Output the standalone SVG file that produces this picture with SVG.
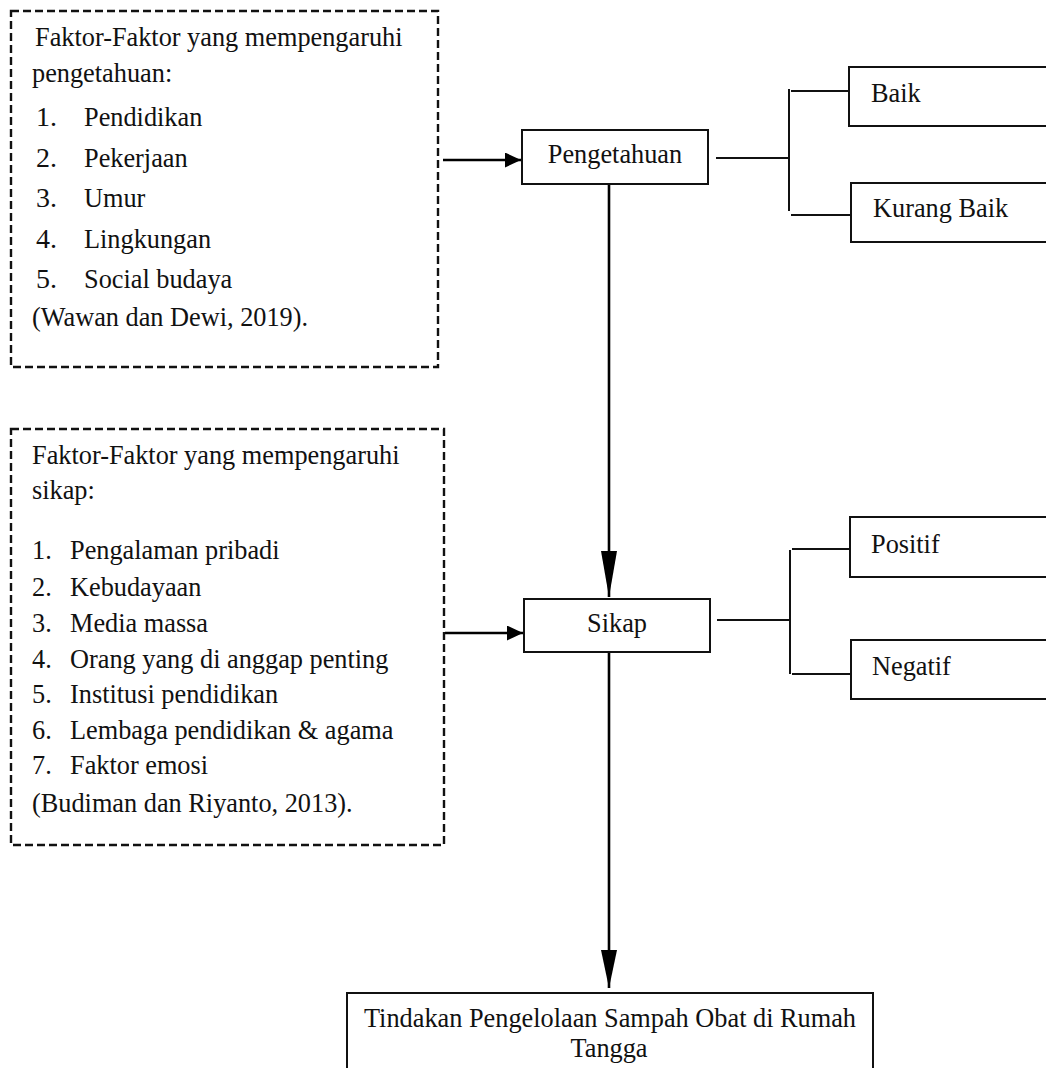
<svg xmlns="http://www.w3.org/2000/svg" width="1046" height="1068" viewBox="0 0 1046 1068">
<style>
text{font-family:'Liberation Serif',serif;font-size:26.3px;fill:#111}
.dash{fill:none;stroke:#111;stroke-width:2.4;stroke-dasharray:8 4}
.box{fill:#fff;stroke:#111;stroke-width:2}
.arr{fill:none;stroke:#000;stroke-width:2.6}
.br{fill:none;stroke:#111;stroke-width:2}
.mid{text-anchor:middle}
.num{font-size:28px}
</style>
<defs>
<marker id="ah" markerUnits="userSpaceOnUse" markerWidth="16" markerHeight="15" refX="16" refY="7.5" orient="auto"><path d="M0,0 L16,7.5 L0,15 z" fill="#000"/></marker>
<marker id="av1" markerUnits="userSpaceOnUse" markerWidth="46" markerHeight="16" refX="46" refY="8" orient="auto"><path d="M0,0 L46,8 L0,16 z" fill="#000"/></marker>
<marker id="av2" markerUnits="userSpaceOnUse" markerWidth="38" markerHeight="16" refX="38" refY="8" orient="auto"><path d="M0,0 L38,8 L0,16 z" fill="#000"/></marker>
</defs>
<rect width="1046" height="1068" fill="#fff"/>

<g id="connectors">
<line class="arr" x1="443" y1="160" x2="521" y2="160" marker-end="url(#ah)"/>
<line class="arr" x1="445" y1="633" x2="523" y2="633" marker-end="url(#ah)"/>
<line class="arr" x1="609" y1="184" x2="609" y2="597" marker-end="url(#av1)"/>
<line class="arr" x1="609" y1="652" x2="609" y2="988" marker-end="url(#av2)"/>
<line class="br" x1="716" y1="158" x2="789" y2="158"/>
<line class="br" x1="789" y1="89" x2="789" y2="211"/>
<line class="br" x1="791" y1="91" x2="849" y2="91"/>
<line class="br" x1="791" y1="215" x2="851" y2="215"/>
<line class="br" x1="717" y1="620" x2="790" y2="620"/>
<line class="br" x1="790" y1="550" x2="790" y2="674"/>
<line class="br" x1="792" y1="549" x2="850" y2="549"/>
<line class="br" x1="792" y1="674" x2="850" y2="674"/>
</g>

<g id="faktor-pengetahuan" font-family="Liberation Serif, serif">
<rect class="dash" x="11" y="11" width="427" height="356"/>
<text x="35" y="46">Faktor-Faktor yang mempengaruhi</text>
<text x="32" y="82">pengetahuan:</text>
<text class="num" x="36" y="126">1.</text><text x="84" y="126">Pendidikan</text>
<text class="num" x="36" y="167">2.</text><text x="84" y="167">Pekerjaan</text>
<text class="num" x="36" y="207">3.</text><text x="84" y="207">Umur</text>
<text class="num" x="36" y="248">4.</text><text x="84" y="248">Lingkungan</text>
<text class="num" x="36" y="288">5.</text><text x="84" y="288">Social budaya</text>
<text x="32" y="326">(Wawan dan Dewi, 2019).</text>
</g>

<g id="faktor-sikap" font-family="Liberation Serif, serif">
<rect class="dash" x="11" y="429" width="433" height="416"/>
<text x="32" y="464">Faktor-Faktor yang mempengaruhi</text>
<text x="32" y="499">sikap:</text>
<text x="32" y="559">1.</text><text x="70" y="559">Pengalaman pribadi</text>
<text x="32" y="596">2.</text><text x="70" y="596">Kebudayaan</text>
<text x="32" y="632">3.</text><text x="70" y="632">Media massa</text>
<text x="32" y="668">4.</text><text x="70" y="668">Orang yang di anggap penting</text>
<text x="32" y="703">5.</text><text x="70" y="703">Institusi pendidikan</text>
<text x="32" y="739">6.</text><text x="70" y="739">Lembaga pendidikan &amp; agama</text>
<text x="32" y="774">7.</text><text x="70" y="774">Faktor emosi</text>
<text x="32" y="812">(Budiman dan Riyanto, 2013).</text>
</g>

<g id="pengetahuan">
<rect class="box" x="522" y="130" width="186" height="54"/>
<text class="mid" x="615" y="163">Pengetahuan</text>
</g>

<g id="baik">
<rect class="box" x="849" y="67" width="220" height="59"/>
<text x="871" y="102">Baik</text>
</g>

<g id="kurang-baik">
<rect class="box" x="851" y="183" width="220" height="59"/>
<text x="873" y="217">Kurang Baik</text>
</g>

<g id="sikap">
<rect class="box" x="524" y="599" width="186" height="53"/>
<text class="mid" x="617" y="632">Sikap</text>
</g>

<g id="positif">
<rect class="box" x="850" y="517" width="220" height="60"/>
<text x="871" y="553">Positif</text>
</g>

<g id="negatif">
<rect class="box" x="851" y="640" width="220" height="59"/>
<text x="872" y="675">Negatif</text>
</g>

<g id="tindakan">
<rect class="box" x="347" y="993" width="526" height="100"/>
<text class="mid" x="610" y="1027">Tindakan Pengelolaan Sampah Obat di Rumah</text>
<text class="mid" x="609" y="1057">Tangga</text>
</g>
</svg>
